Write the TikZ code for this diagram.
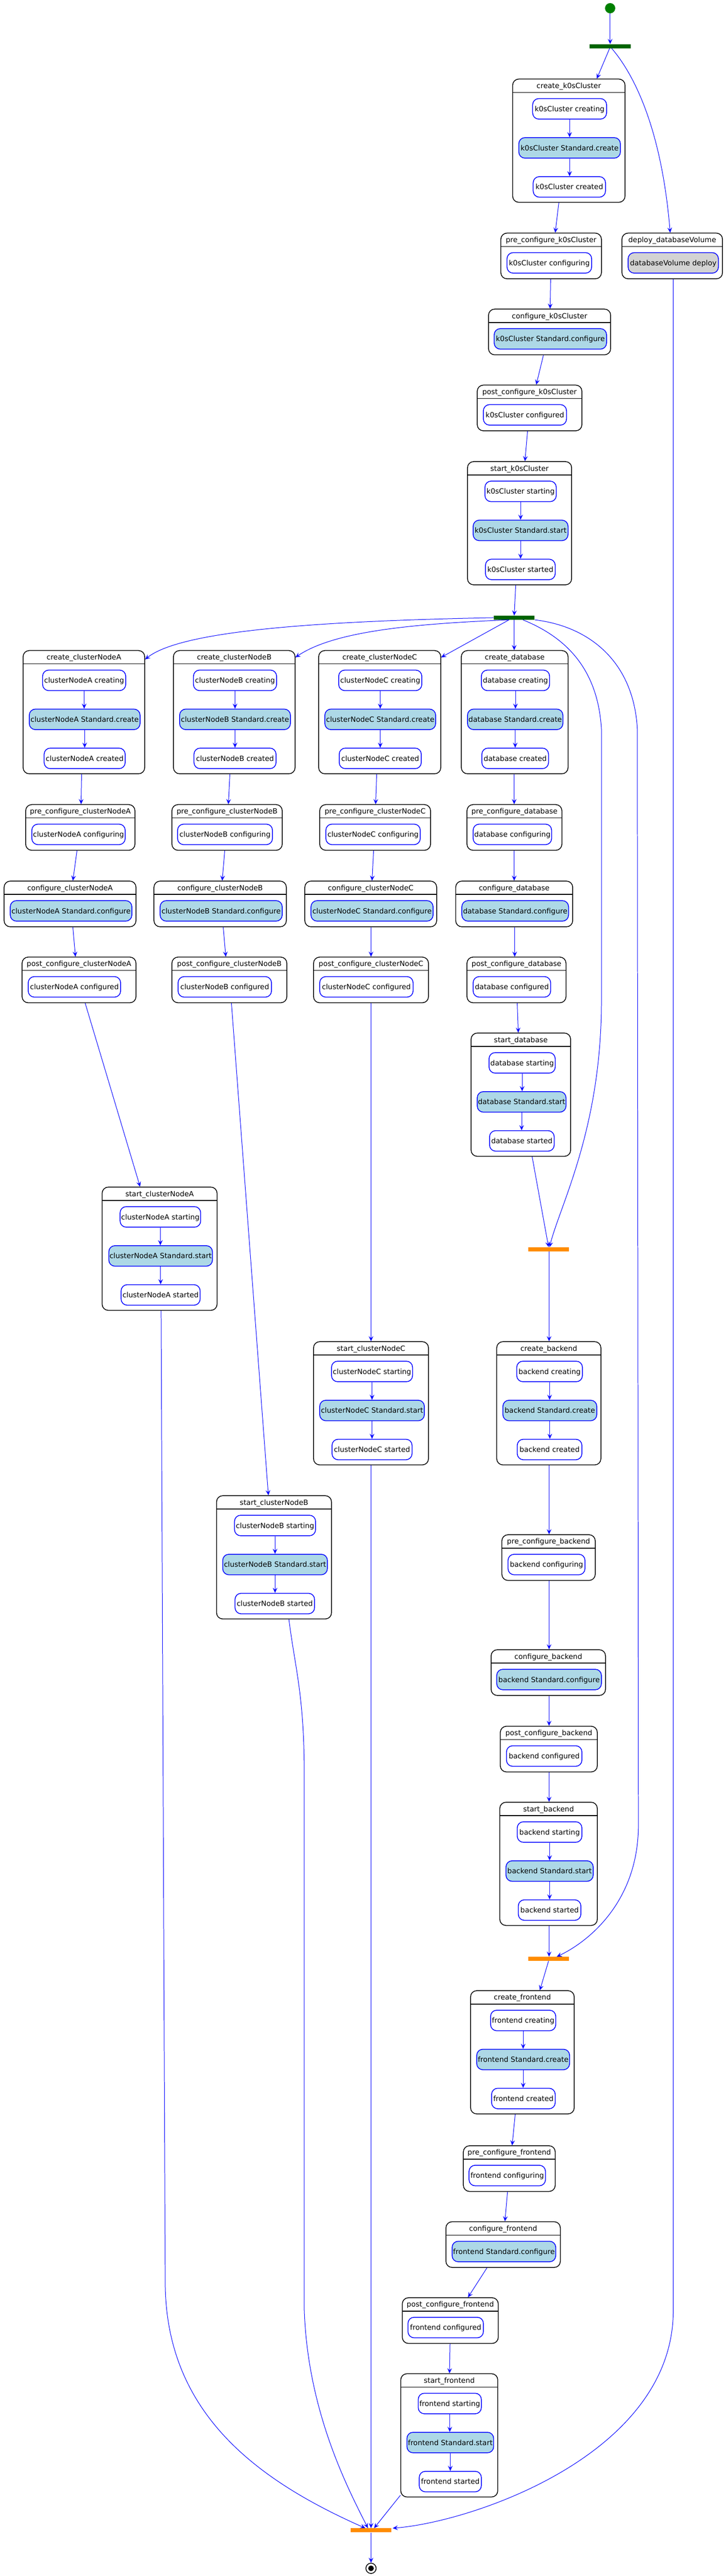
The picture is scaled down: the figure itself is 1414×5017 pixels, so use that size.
\documentclass[tikz,border=0pt]{standalone}
\usepackage{fontspec}
\setmainfont{DejaVu Sans}
\usetikzlibrary{arrows.meta}
\definecolor{lblue}{HTML}{ADD8E6}
\definecolor{lgray}{HTML}{D3D3D3}
\definecolor{dgreen}{HTML}{006400}
\definecolor{dorange}{HTML}{FF8C00}
\definecolor{sgreen}{HTML}{008000}
\newcommand{\diagfont}{\fontsize{14pt}{16pt}\selectfont}
% composite state: name, x1, y1, x2, y2, title
\newcommand{\cbox}[6]{%
  \pgfmathsetmacro{\cbW}{#4-#2}%
  \pgfmathsetmacro{\cbH}{#5-#3}%
  \pgfmathsetmacro{\cbX}{(#2+#4)/2}%
  \pgfmathsetmacro{\cbY}{(#3+#5)/2}%
  \node[outerbox, minimum width=\cbW pt, minimum height=\cbH pt] (#1) at (\cbX,\cbY) {};
  \node[titletext] (#1t) at (\cbX,#3+13) {#6};
  \draw[sepline] (#2,#3+26) -- (#4,#3+26);
}
% inner state: name, x1, x2, ytop, style, text
\newcommand{\ibox}[6]{%
  \pgfmathsetmacro{\ibW}{#3-#2}%
  \pgfmathsetmacro{\ibX}{(#2+#3)/2}%
  \node[#5, minimum width=\ibW pt] (#1) at (\ibX,#4+20) {#6};
}
\newcommand{\inarr}[2]{\draw[conn] (#1.south) -- (#1.south |- #2.north);}
\begin{document}
\begin{tikzpicture}[x=1pt,y=-1pt,
  outerbox/.style={rectangle, rounded corners=12pt, draw=black, line width=1.5pt, fill=white, inner sep=0pt},
  titletext/.style={font=\diagfont, inner sep=0pt, text height=10.2pt, text depth=0pt},
  sepline/.style={draw=black, line width=1.5pt},
  ibase/.style={rectangle, rounded corners=12pt, draw=blue, line width=1.5pt, minimum height=40pt, inner sep=0pt, font=\diagfont, text height=10.2pt, text depth=0pt},
  stw/.style={ibase, fill=white},
  stb/.style={ibase, fill=lblue},
  stg/.style={ibase, fill=lgray},
  conn/.style={draw=blue, line width=1pt, -{Stealth[length=10pt,width=9pt,inset=4pt]}},
  barg/.style={rectangle, fill=dgreen, minimum width=80pt, minimum height=8pt, inner sep=0pt},
  baro/.style={rectangle, fill=dorange, minimum width=80pt, minimum height=8pt, inner sep=0pt}]
\useasboundingbox (0,0) rectangle (1414,5017);
\fill[white] (0,0) rectangle (1414,5017);

% start and top fork
\node[circle, fill=sgreen, minimum size=20pt, inner sep=0pt] (start) at (1189,16) {};
\node[barg] (fork0) at (1189,90) {};

% k0sCluster chain
\cbox{createk}{999}{154}{1218}{394}{create\_k0sCluster}
\ibox{createk1}{1038}{1182}{192}{stw}{k0sCluster creating}
\ibox{createk2}{1011}{1209}{268}{stb}{k0sCluster Standard.create}
\ibox{createk3}{1039}{1180}{344}{stw}{k0sCluster created}
\cbox{prek}{976}{454}{1172}{543}{pre\_configure\_k0sCluster}
\ibox{prek1}{988}{1153}{492}{stw}{k0sCluster configuring}
\cbox{deploy}{1212}{454}{1408}{543}{deploy\_databaseVolume}
\ibox{deploy1}{1224}{1400}{492}{stg}{databaseVolume deploy}
\cbox{confk}{952}{602}{1190}{691}{configure\_k0sCluster}
\ibox{confk1}{963}{1182}{640}{stb}{k0sCluster Standard.configure}
\cbox{postk}{930}{750}{1134}{839}{post\_configure\_k0sCluster}
\ibox{postk1}{942}{1104}{788}{stw}{k0sCluster configured}
\cbox{startk}{911}{899}{1114}{1139}{start\_k0sCluster}
\ibox{startk1}{945}{1084}{937}{stw}{k0sCluster starting}
\ibox{startk2}{922}{1107}{1013}{stb}{k0sCluster Standard.start}
\ibox{startk3}{946}{1082}{1089}{stw}{k0sCluster started}

\node[barg] (fork1) at (1002,1203) {};

% create row
\cbox{createA}{45}{1267}{282}{1507}{create\_clusterNodeA}
\ibox{createA1}{83}{245}{1305}{stw}{clusterNodeA creating}
\ibox{createA2}{57}{273}{1381}{stb}{clusterNodeA Standard.create}
\ibox{createA3}{86}{244}{1457}{stw}{clusterNodeA created}
\cbox{createB}{338}{1267}{575}{1507}{create\_clusterNodeB}
\ibox{createB1}{377}{539}{1305}{stw}{clusterNodeB creating}
\ibox{createB2}{350}{566}{1381}{stb}{clusterNodeB Standard.create}
\ibox{createB3}{378}{538}{1457}{stw}{clusterNodeB created}
\cbox{createC}{621}{1267}{859}{1507}{create\_clusterNodeC}
\ibox{createC1}{660}{822}{1305}{stw}{clusterNodeC creating}
\ibox{createC2}{633}{849}{1381}{stb}{clusterNodeC Standard.create}
\ibox{createC3}{661}{821}{1457}{stw}{clusterNodeC created}
\cbox{createDB}{899}{1267}{1107}{1507}{create\_database}
\ibox{createDB1}{938}{1071}{1305}{stw}{database creating}
\ibox{createDB2}{911}{1097}{1381}{stb}{database Standard.create}
\ibox{createDB3}{939}{1069}{1457}{stw}{database created}

% pre_configure row
\cbox{preA}{50}{1567}{263}{1656}{pre\_configure\_clusterNodeA}
\ibox{preA1}{62}{244}{1605}{stw}{clusterNodeA configuring}
\cbox{preB}{335}{1567}{550}{1656}{pre\_configure\_clusterNodeB}
\ibox{preB1}{346}{531}{1605}{stw}{clusterNodeB configuring}
\cbox{preC}{623}{1567}{839}{1656}{pre\_configure\_clusterNodeC}
\ibox{preC1}{635}{819}{1605}{stw}{clusterNodeC configuring}
\cbox{preDB}{910}{1567}{1095}{1656}{pre\_configure\_database}
\ibox{preDB1}{922}{1075}{1605}{stw}{database configuring}

% configure row
\cbox{confA}{8}{1716}{265}{1805}{configure\_clusterNodeA}
\ibox{confA1}{20}{257}{1754}{stb}{clusterNodeA Standard.configure}
\cbox{confB}{300}{1716}{558}{1805}{configure\_clusterNodeB}
\ibox{confB1}{312}{550}{1754}{stb}{clusterNodeB Standard.configure}
\cbox{confC}{594}{1716}{851}{1805}{configure\_clusterNodeC}
\ibox{confC1}{606}{844}{1754}{stb}{clusterNodeC Standard.configure}
\cbox{confDB}{888}{1716}{1116}{1805}{configure\_database}
\ibox{confDB1}{900}{1108}{1754}{stb}{database Standard.configure}

% post_configure row
\cbox{postA}{43}{1864}{265}{1953}{post\_configure\_clusterNodeA}
\ibox{postA1}{55}{235}{1902}{stw}{clusterNodeA configured}
\cbox{postB}{335}{1864}{559}{1953}{post\_configure\_clusterNodeB}
\ibox{postB1}{347}{529}{1902}{stw}{clusterNodeB configured}
\cbox{postC}{611}{1864}{835}{1953}{post\_configure\_clusterNodeC}
\ibox{postC1}{623}{805}{1902}{stw}{clusterNodeC configured}
\cbox{postDB}{910}{1864}{1103}{1953}{post\_configure\_database}
\ibox{postDB1}{922}{1073}{1902}{stw}{database configured}

% start boxes
\cbox{startDB}{918}{2012}{1112}{2252}{start\_database}
\ibox{startDB1}{953}{1082}{2050}{stw}{database starting}
\ibox{startDB2}{930}{1103}{2126}{stb}{database Standard.start}
\ibox{startDB3}{954}{1080}{2202}{stw}{database started}
\cbox{startA}{199}{2312}{423}{2552}{start\_clusterNodeA}
\ibox{startA1}{234}{391}{2350}{stw}{clusterNodeA starting}
\ibox{startA2}{212}{414}{2426}{stb}{clusterNodeA Standard.start}
\ibox{startA3}{236}{390}{2502}{stw}{clusterNodeA started}
\cbox{startC}{611}{2613}{835}{2853}{start\_clusterNodeC}
\ibox{startC1}{646}{804}{2651}{stw}{clusterNodeC starting}
\ibox{startC2}{623}{827}{2727}{stb}{clusterNodeC Standard.start}
\ibox{startC3}{647}{803}{2803}{stw}{clusterNodeC started}
\cbox{startB}{422}{2913}{646}{3153}{start\_clusterNodeB}
\ibox{startB1}{457}{615}{2951}{stw}{clusterNodeB starting}
\ibox{startB2}{434}{638}{3027}{stb}{clusterNodeB Standard.start}
\ibox{startB3}{458}{613}{3103}{stw}{clusterNodeB started}

\node[baro] (join1) at (1069,2433) {};

% backend chain
\cbox{createBE}{968}{2613}{1171}{2853}{create\_backend}
\ibox{createBE1}{1007}{1135}{2651}{stw}{backend creating}
\ibox{createBE2}{980}{1163}{2727}{stb}{backend Standard.create}
\ibox{createBE3}{1008}{1134}{2803}{stw}{backend created}
\cbox{preBE}{978}{2989}{1160}{3078}{pre\_configure\_backend}
\ibox{preBE1}{990}{1140}{3027}{stw}{backend configuring}
\cbox{confBE}{957}{3213}{1180}{3302}{configure\_backend}
\ibox{confBE1}{968}{1172}{3251}{stb}{backend Standard.configure}
\cbox{postBE}{975}{3362}{1164}{3451}{post\_configure\_backend}
\ibox{postBE1}{987}{1134}{3400}{stw}{backend configured}
\cbox{startBE}{974}{3510}{1164}{3750}{start\_backend}
\ibox{startBE1}{1008}{1134}{3548}{stw}{backend starting}
\ibox{startBE2}{986}{1156}{3624}{stb}{backend Standard.start}
\ibox{startBE3}{1010}{1132}{3700}{stw}{backend started}

\node[baro] (join2) at (1069,3815) {};

% frontend chain
\cbox{createFE}{917}{3877}{1119}{4117}{create\_frontend}
\ibox{createFE1}{956}{1083}{3915}{stw}{frontend creating}
\ibox{createFE2}{929}{1110}{3991}{stb}{frontend Standard.create}
\ibox{createFE3}{958}{1082}{4067}{stw}{frontend created}
\cbox{preFE}{903}{4179}{1082}{4268}{pre\_configure\_frontend}
\ibox{preFE1}{914}{1063}{4217}{stw}{frontend configuring}
\cbox{confFE}{869}{4327}{1092}{4416}{configure\_frontend}
\ibox{confFE1}{881}{1083}{4365}{stb}{frontend Standard.configure}
\cbox{postFE}{784}{4475}{971}{4564}{post\_configure\_frontend}
\ibox{postFE1}{795}{942}{4513}{stw}{frontend configured}
\cbox{startFE}{781}{4623}{970}{4863}{start\_frontend}
\ibox{startFE1}{815}{938}{4661}{stw}{frontend starting}
\ibox{startFE2}{793}{962}{4737}{stb}{frontend Standard.start}
\ibox{startFE3}{817}{938}{4813}{stw}{frontend started}

\node[baro] (final) at (723,4928) {};
\node[circle, draw=black, line width=1.5pt, fill=white, minimum size=20pt, inner sep=0pt] (endnode) at (723,5002) {};
\node[circle, fill=black, minimum size=11pt, inner sep=0pt] (enddot) at (endnode.center) {};

% inner arrows
\inarr{createk1}{createk2}\inarr{createk2}{createk3}
\inarr{startk1}{startk2}\inarr{startk2}{startk3}
\inarr{createA1}{createA2}\inarr{createA2}{createA3}
\inarr{createB1}{createB2}\inarr{createB2}{createB3}
\inarr{createC1}{createC2}\inarr{createC2}{createC3}
\inarr{createDB1}{createDB2}\inarr{createDB2}{createDB3}
\inarr{startDB1}{startDB2}\inarr{startDB2}{startDB3}
\inarr{startA1}{startA2}\inarr{startA2}{startA3}
\inarr{startB1}{startB2}\inarr{startB2}{startB3}
\inarr{startC1}{startC2}\inarr{startC2}{startC3}
\inarr{createBE1}{createBE2}\inarr{createBE2}{createBE3}
\inarr{startBE1}{startBE2}\inarr{startBE2}{startBE3}
\inarr{createFE1}{createFE2}\inarr{createFE2}{createFE3}
\inarr{startFE1}{startFE2}\inarr{startFE2}{startFE3}

% connectors
\draw[conn] (start.south) -- (fork0.north);
\draw[conn] ([xshift=-1pt]fork0.south) -- ([xshift=54.5pt]createk.north);
\draw[conn] ([xshift=3pt]fork0.south) .. controls (1240,150) and (1290,260) .. ([xshift=-4pt]deploy.north);
\draw[conn] ([xshift=-19.5pt]createk.south) -- ([xshift=8pt]prek.north);
\draw[conn] ([xshift=2pt]deploy.south) -- (1312,4500) .. controls (1312,4780) and (920,4912) .. ([xshift=2pt]final.north east);
\draw[conn] ([xshift=-1pt]prek.south) -- ([xshift=1pt]confk.north);
\draw[conn] ([xshift=-12pt]confk.south) -- ([xshift=13pt]postk.north);
\draw[conn] ([xshift=-4pt]postk.south) -- ([xshift=10.5pt]startk.north);
\draw[conn] ([xshift=-7.5pt]startk.south) -- (fork1.north);

\draw[conn] (fork1.west) .. controls (600,1210) and (350,1230) .. ([yshift=-18pt]createA.north east);
\draw[conn] ([xshift=-10pt]fork1.south) .. controls (800,1215) and (650,1230) .. ([yshift=-14pt]createB.north east);
\draw[conn] ([xshift=-10pt]fork1.south) -- ([yshift=-14pt]createC.north east);
\draw[conn] (fork1.south) -- ([xshift=-1pt]createDB.north);
\draw[conn] ([xshift=17pt]fork1.south) .. controls (1100,1240) and (1165,1300) .. (1172,1420) -- (1172,1950) .. controls (1172,2200) and (1090,2350) .. ([xshift=2pt]join1.north);
\draw[conn] (fork1.south east) .. controls (1150,1220) and (1235,1290) .. (1242,1420) -- (1244,3550) .. controls (1246,3700) and (1150,3780) .. ([xshift=16pt]join2.north);

\draw[conn] ([xshift=-4.5pt]createA.south) -- ([xshift=1.5pt]preA.north);
\draw[conn] ([xshift=-8.5pt]createB.south) -- ([xshift=2.5pt]preB.north);
\draw[conn] ([xshift=-6pt]createC.south) -- ([xshift=1pt]preC.north);
\draw[conn] ([xshift=-1pt]createDB.south) -- ([xshift=-0.5pt]preDB.north);
\draw[conn] ([xshift=-6.5pt]preA.south) -- ([xshift=5.5pt]confA.north);
\draw[conn] ([xshift=-4.5pt]preB.south) -- ([xshift=4pt]confB.north);
\draw[conn] ([xshift=-3pt]preC.south) -- ([xshift=2.5pt]confC.north);
\draw[conn] ([xshift=-0.5pt]preDB.south) -- (confDB.north);
\draw[conn] ([xshift=5.5pt]confA.south) -- ([xshift=-7pt]postA.north);
\draw[conn] ([xshift=6pt]confB.south) -- ([xshift=-7pt]postB.north);
\draw[conn] ([xshift=0.5pt]confC.south) -- (postC.north);
\draw[conn] ([xshift=1pt]confDB.south) -- ([xshift=-3.5pt]postDB.north);
\draw[conn] ([xshift=12pt]postA.south) -- ([xshift=-38pt]startA.north);
\draw[conn] ([xshift=4pt]postB.south) -- ([xshift=-11pt]startB.north);
\draw[conn] (postC.south) -- (startC.north);
\draw[conn] ([xshift=1.5pt]postDB.south) -- ([xshift=-5pt]startDB.north);
\draw[conn] ([xshift=22pt]startDB.south) -- (join1.north);

\draw[conn] ([xshift=1pt]join1.south) -- ([xshift=0.5pt]createBE.north);
\draw[conn] ([xshift=0.5pt]createBE.south) -- ([xshift=1pt]preBE.north);
\draw[conn] ([xshift=1pt]preBE.south) -- ([xshift=1.5pt]confBE.north);
\draw[conn] ([xshift=1.5pt]confBE.south) -- ([xshift=0.5pt]postBE.north);
\draw[conn] ([xshift=0.5pt]postBE.south) -- ([xshift=1pt]startBE.north);
\draw[conn] ([xshift=1pt]startBE.south) -- ([xshift=1pt]join2.north);
\draw[conn] (join2.south) -- ([xshift=34pt]createFE.north);
\draw[conn] ([xshift=-14pt]createFE.south) -- ([xshift=5.5pt]preFE.north);
\draw[conn] ([xshift=-3.5pt]preFE.south) -- ([xshift=3.5pt]confFE.north);
\draw[conn] ([xshift=-31.5pt]confFE.south) -- ([xshift=34.5pt]postFE.north);
\draw[conn] ([xshift=-0.5pt]postFE.south) -- ([xshift=0.5pt]startFE.north);
\draw[conn] ([yshift=4pt]startFE.south west) -- ([xshift=6pt]final.north);

\draw[conn] ([xshift=3pt]startA.south) -- (322,4450) .. controls (325,4700) and (500,4830) .. ([xshift=-11pt]final.north);
\draw[conn] ([xshift=29pt]startB.south) .. controls (575,3250) and (593,3300) .. (593,3460) -- (593,4500) .. controls (600,4700) and (680,4850) .. ([xshift=-6pt]final.north);
\draw[conn] (startC.south) -- (final.north);
\draw[conn] (final.south) -- (endnode.north);
\end{tikzpicture}
\end{document}
